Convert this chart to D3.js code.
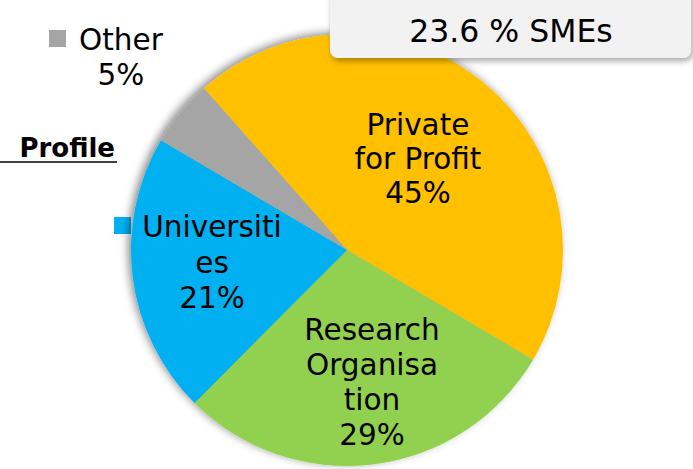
<!DOCTYPE html>
<html><head><meta charset="utf-8">
<script src="https://cdn.jsdelivr.net/npm/d3@7"></script>
<style>body{margin:0;background:#fff}svg{display:block}</style>
</head><body>
<svg id="c" width="693" height="469"></svg>
<script>
const categories = ["Private for Profit", "Research Organisation", "Universities", "Other"];
const values = [45, 29, 21, 5];
const colors = ["#FFC000", "#92D050", "#00B0F0", "#A5A5A5"];
const labelLines = [["Private", "for Profit", "45%"], ["Research", "Organisa", "tion", "29%"], ["Universiti", "es", "21%"], []];
const boxText = "23.6 % SMEs";
const profileText = "Profile";

const svg = d3.select("#c");
const font = "'DejaVu Sans', Verdana, sans-serif";
const defs = svg.append("defs");
const f1 = defs.append("filter").attr("id", "ps").attr("x", "-20%").attr("y", "-20%").attr("width", "140%").attr("height", "140%");
f1.append("feDropShadow").attr("dx", -3).attr("dy", -2).attr("stdDeviation", 4).attr("flood-color", "#000").attr("flood-opacity", 0.45);
const f2 = defs.append("filter").attr("id", "bs").attr("x", "-20%").attr("y", "-30%").attr("width", "140%").attr("height", "160%");
f2.append("feDropShadow").attr("dx", 2).attr("dy", 3).attr("stdDeviation", 3).attr("flood-color", "#000").attr("flood-opacity", 0.35);

const cx = 347, cy = 250, r = 216;
const startOffset = -41.5 * Math.PI / 180;
const pie = d3.pie().sort(null).value(d => d)
  .startAngle(startOffset).endAngle(startOffset + 2 * Math.PI);
const arcs = pie(values);
const arc = d3.arc().innerRadius(0).outerRadius(r);

// Legend markers
svg.append("rect").attr("x", 49).attr("y", 30).attr("width", 17).attr("height", 17).attr("fill", colors[3]);
svg.append("rect").attr("x", 114).attr("y", 217).attr("width", 17).attr("height", 17).attr("fill", colors[2]);

const g = svg.append("g").attr("transform", `translate(${cx},${cy})`);
g.append("g").attr("filter", "url(#ps)")
  .selectAll("path").data(arcs).join("path")
  .attr("d", arc).attr("fill", (d, i) => colors[i]);

// Slice labels
const labelPos = [[418, 135], [372, 340], [212, 237]];
const lh = [34, 35, 35.5];
labelLines.forEach((lines, i) => {
  if (!lines.length) return;
  const t = svg.append("text").attr("font-family", font).attr("font-size", 29.5).attr("fill", "#000").attr("text-anchor", "middle");
  lines.forEach((l, j) => t.append("tspan").attr("x", labelPos[i][0]).attr("y", labelPos[i][1] + j * lh[i]).text(l));
});

// Other label
svg.append("text").attr("font-family", font).attr("font-size", 29.5).attr("x", 79).attr("y", 50).text("Other");
svg.append("text").attr("font-family", font).attr("font-size", 29.5).attr("x", 121).attr("y", 85).attr("text-anchor", "middle").text(values[3] + "%");

// Profile
svg.append("text").attr("font-family", font).attr("font-size", 26).attr("font-weight", "bold").attr("x", 115).attr("y", 157).attr("text-anchor", "end").text(profileText);
svg.append("line").attr("x1", 0).attr("x2", 117).attr("y1", 162).attr("y2", 162).attr("stroke", "#000").attr("stroke-width", 1.5);

// SME box
svg.append("rect").attr("x", 330).attr("y", -12).attr("width", 361).attr("height", 70).attr("rx", 8)
  .attr("fill", "#F2F2F2").attr("filter", "url(#bs)");
svg.append("text").attr("font-family", font).attr("font-size", 31.5).attr("x", 511).attr("y", 42).attr("text-anchor", "middle").attr("fill", "#000").text(boxText);
</script>
</body></html>
